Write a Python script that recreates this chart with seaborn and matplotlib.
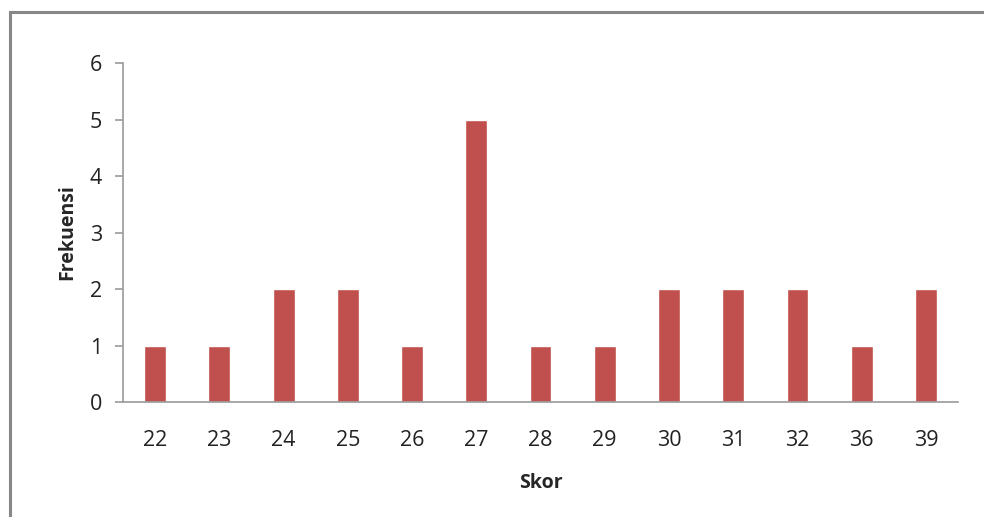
import seaborn as sns
import matplotlib.pyplot as plt
import matplotlib.patches as patches
import pandas as pd

skor = ['22', '23', '24', '25', '26', '27', '28', '29', '30', '31', '32', '36', '39']
frekuensi = [1, 1, 2, 2, 1, 5, 1, 1, 2, 2, 2, 1, 2]

df = pd.DataFrame({'Skor': skor, 'Frekuensi': frekuensi})

sns.set_style('white')
plt.rcParams['font.family'] = ['Open Sans', 'DejaVu Sans']

fig = plt.figure(figsize=(9.84, 5.17), dpi=100)
ax = fig.add_axes([0.125, 0.2224, 0.8486, 0.6556])

sns.barplot(data=df, x='Skor', y='Frekuensi', color='#C0504D', saturation=1,
            width=0.34, ax=ax)

ax.set_ylim(0, 6)
ax.set_xlim(-0.5, len(skor) - 0.5)
ax.set_yticks(range(0, 7))
for s in ['top', 'right']:
    ax.spines[s].set_visible(False)
for s in ['left', 'bottom']:
    ax.spines[s].set_color('#9a9a9a')
    ax.spines[s].set_linewidth(1.2)
ax.tick_params(axis='y', left=True, direction='out', length=6, width=1.2,
               color='#9a9a9a', labelsize=15.5, labelcolor='#222222', pad=9)
ax.tick_params(axis='x', bottom=False, length=0, labelsize=15.5,
               labelcolor='#222222', pad=20)

ax.set_xlabel('Skor', fontsize=14, fontweight='bold', labelpad=16)
ax.set_ylabel('Frekuensi', fontsize=14, fontweight='bold', labelpad=9)

# chart area border
fig.patches.append(patches.Rectangle((10 / 984, -0.05), 1.0, 1 - 12 / 517 + 0.05,
                                     transform=fig.transFigure, fill=False,
                                     edgecolor='#878787', linewidth=2.2))

fig.savefig('out.png', dpi=100)
